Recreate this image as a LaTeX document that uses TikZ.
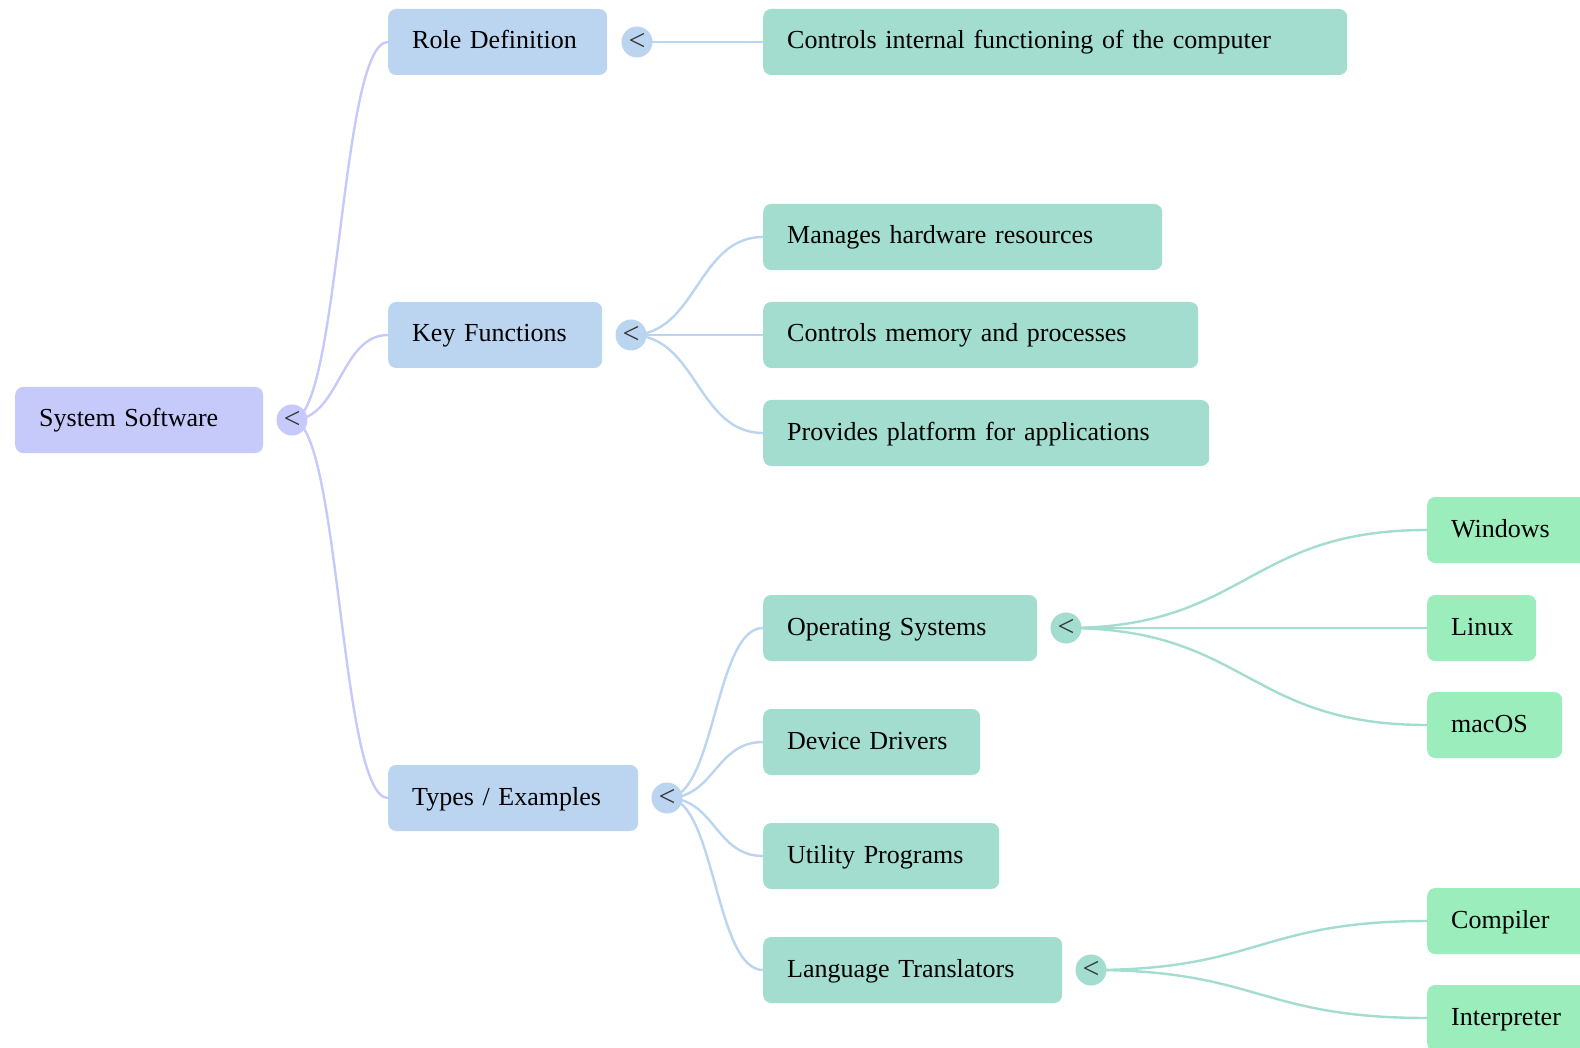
\documentclass[tikz,border=0pt]{standalone}
\usepackage{fontspec}
\setmainfont{Liberation Serif}
\usetikzlibrary{calc}
\pgfdeclarelayer{bg}
\pgfsetlayers{bg,main}

\definecolor{rootfill}{RGB}{197,202,250}
\definecolor{lonefill}{RGB}{187,212,240}
\definecolor{ltwofill}{RGB}{162,221,208}
\definecolor{lthreefill}{RGB}{155,237,188}
\definecolor{marktext}{RGB}{50,50,50}

\tikzset{
  box/.style={rounded corners=8pt, minimum height=66pt, inner xsep=24pt, inner ysep=0pt,
    align=left, anchor=west, text=black, font=\fontsize{26}{30}\selectfont,
    text height=19pt, text depth=5pt},
  rootbox/.style={box, fill=rootfill},
  onebox/.style={box, fill=lonefill},
  twobox/.style={box, fill=ltwofill},
  threebox/.style={box, fill=lthreefill},
  knob/.style={circle, minimum size=31pt, inner sep=0pt, text=marktext,
    font=\fontsize{30}{30}\selectfont},
  link/.style={line width=2.4pt, line cap=round},
  curve/.style={to path={let \p1=(\tikztostart), \p2=(\tikztotarget), \n1={(\x1+\x2)/2} in
    .. controls (\n1,\y1) and (\n1,\y2) .. (\tikztotarget)}},
}

\begin{document}
\begin{tikzpicture}[x=1pt,y=-1pt]
\useasboundingbox (0,0) rectangle (1580,1048);
\clip (0,0) rectangle (1580,1048);

% root
\node[rootbox, text width=200pt] (root) at (15,420) {System Software};
\node[knob, fill=rootfill] (k0) at (292,420) {<};

% first level
\node[onebox, text width=171pt] (role) at (388,42) {Role Definition};
\node[knob, fill=lonefill] (k1) at (637,42) {<};
\node[onebox, text width=166pt] (keyf) at (388,335) {Key Functions};
\node[knob, fill=lonefill] (k2) at (631,335) {<};
\node[onebox, text width=202pt] (types) at (388,798) {Types / Examples};
\node[knob, fill=lonefill] (k3) at (667,798) {<};

% second level
\node[twobox, text width=536pt] (ctrl) at (763,42) {Controls internal functioning of the computer};
\node[twobox, text width=351pt] (hw) at (763,237) {Manages hardware resources};
\node[twobox, text width=387pt] (mem) at (763,335) {Controls memory and processes};
\node[twobox, text width=398pt] (plat) at (763,433) {Provides platform for applications};
\node[twobox, text width=226pt] (os) at (763,628) {Operating Systems};
\node[knob, fill=ltwofill] (k4) at (1066,628) {<};
\node[twobox, text width=169pt] (drv) at (763,742) {Device Drivers};
\node[twobox, text width=188pt] (util) at (763,856) {Utility Programs};
\node[twobox, text width=251pt] (lang) at (763,970) {Language Translators};
\node[knob, fill=ltwofill] (k5) at (1091,970) {<};

% third level
\node[threebox, text width=130pt] (win) at (1427,530) {Windows};
\node[threebox, text width=61pt] (lin) at (1427,628) {Linux};
\node[threebox, text width=87pt] (mac) at (1427,725) {macOS};
\node[threebox, text width=130pt] (comp) at (1427,921) {Compiler};
\node[threebox, text width=130pt] (interp) at (1427,1018) {Interpreter};

% connectors
\begin{pgfonlayer}{bg}
\draw[link, rootfill] (k0.center) to[curve] (role.west);
\draw[link, rootfill] (k0.center) to[curve] (keyf.west);
\draw[link, rootfill] (k0.center) to[curve] (types.west);

\draw[link, lonefill] (k1.center) -- (ctrl.west);
\draw[link, lonefill] (k2.center) to[curve] (hw.west);
\draw[link, lonefill] (k2.center) -- (mem.west);
\draw[link, lonefill] (k2.center) to[curve] (plat.west);
\draw[link, lonefill] (k3.center) to[curve] (os.west);
\draw[link, lonefill] (k3.center) to[curve] (drv.west);
\draw[link, lonefill] (k3.center) to[curve] (util.west);
\draw[link, lonefill] (k3.center) to[curve] (lang.west);

\draw[link, ltwofill] (k4.center) to[curve] (win.west);
\draw[link, ltwofill] (k4.center) -- (lin.west);
\draw[link, ltwofill] (k4.center) to[curve] (mac.west);
\draw[link, ltwofill] (k5.center) to[curve] (comp.west);
\draw[link, ltwofill] (k5.center) to[curve] (interp.west);
\end{pgfonlayer}
\end{tikzpicture}
\end{document}
